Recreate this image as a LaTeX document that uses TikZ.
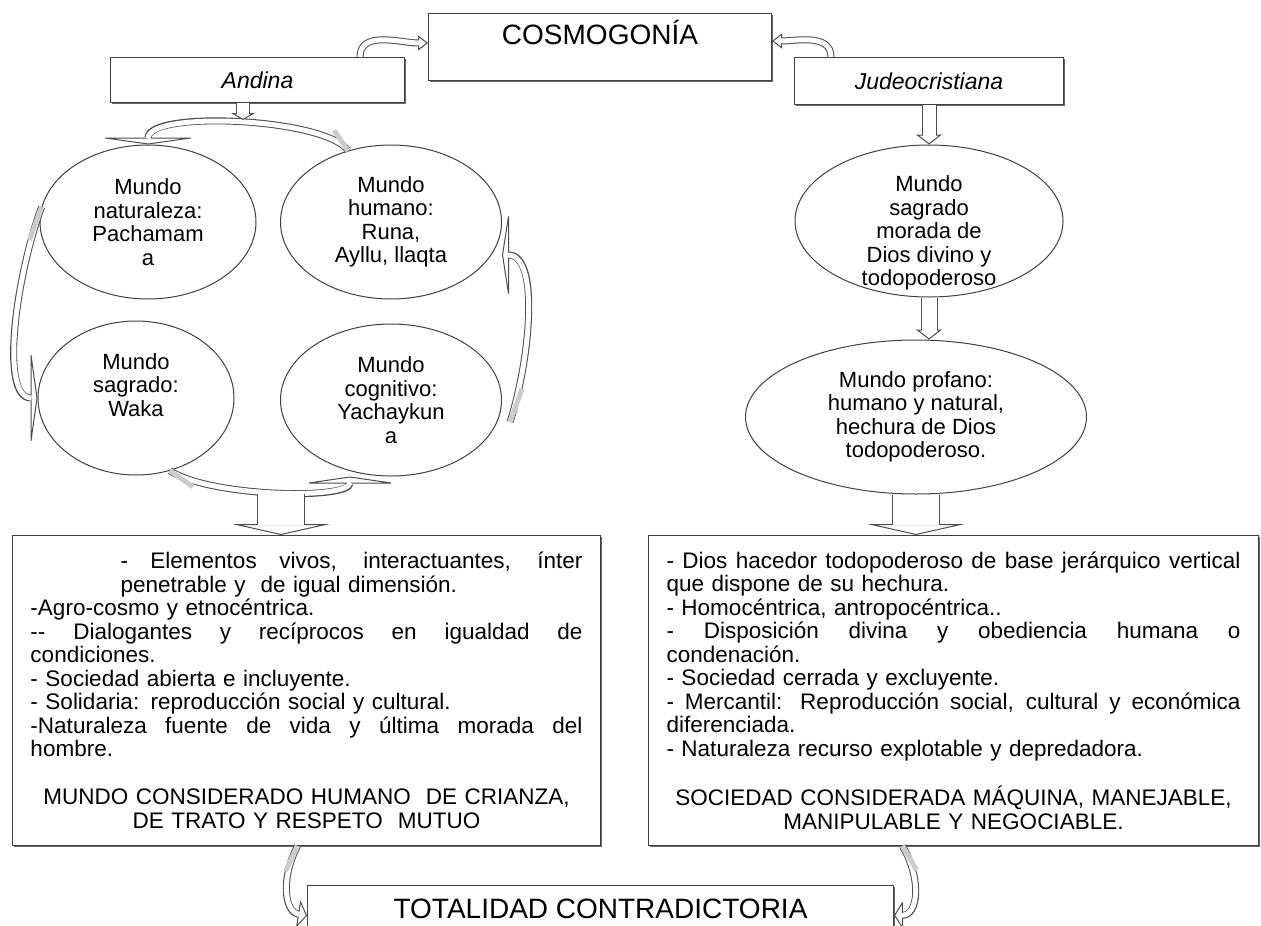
\documentclass[tikz,border=0pt]{standalone}
\usepackage{fontspec}
\setmainfont{Liberation Sans}
\usetikzlibrary{shapes.geometric,arrows.meta,shadows}
\newcommand{\justa}[2]{{\spaceskip=0pt\xspaceskip=0pt\makebox[#1][s]{#2}}}

\begin{document}
\begin{tikzpicture}[x=1pt,y=-1pt,
    caja/.style={draw=black!75,line width=1pt,fill=white,drop shadow={shadow xshift=1.5pt,shadow yshift=-1.5pt,fill=black!60,opacity=1}},
    mundo/.style={ellipse,draw=black!75,line width=1pt,fill=white,inner sep=0pt},
    rotulo/.style={align=center,font=\fontsize{22}{23.5}\selectfont},
    lista/.style={caja,anchor=north west,align=left,inner xsep=18pt,inner ysep=12pt,minimum height=310pt,font=\fontsize{22.5}{23.5}\selectfont},
    bloque/.style n args={5}{draw=black!70,line width=#1pt,-{Triangle[open,fill=white,line width=1pt,length=#3pt,width=#4pt]},postaction={draw=white,line width=#2pt,arrows=-,shorten >=#5pt}},
    cola/.style={draw=gray!40,line width=5pt}]
    \useasboundingbox (0,0) rectangle (1261,926);
    \node[caja,anchor=north west,minimum width=343,minimum height=67,text height=20pt,text depth=25pt,font=\fontsize{28}{30}\selectfont] (cosmo) at (428,13) {COSMOGONÍA};
    \node[caja,anchor=north west,minimum width=294,minimum height=45,font=\fontsize{23}{25}\selectfont\itshape] (andina) at (110,57) {Andina};
    \node[caja,anchor=north west,minimum width=269,minimum height=47,font=\fontsize{23}{25}\selectfont\itshape] (judeo) at (794,57) {Judeocristiana};
    \node[mundo,minimum width=216,minimum height=154] (natur) at (148,222) {};
    \node[rotulo] (tnatur) at (natur) {Mundo\\naturaleza:\\Pachamam\\a};
    \node[mundo,minimum width=221,minimum height=154] (humano) at (391,222) {};
    \node[rotulo] (thumano) at (humano) {Mundo\\humano:\\Runa,\\Ayllu, llaqta};
    \node[mundo,minimum width=196,minimum height=154] (sagA) at (136,398) {};
    \node[rotulo] (tsagA) at ([yshift=13pt]sagA.center) {Mundo\\sagrado:\\Waka};
    \node[mundo,minimum width=221,minimum height=152] (cogn) at (391,400) {};
    \node[rotulo] (tcogn) at (cogn) {Mundo\\cognitivo:\\Yachaykun\\a};
    \node[mundo,minimum width=268,minimum height=152] (sagJ) at (929,221) {};
    \node[rotulo] (tsagJ) at ([yshift=-12pt]sagJ.center) {Mundo\\sagrado\\morada de\\Dios divino y\\todopoderoso};
    \node[mundo,minimum width=341,minimum height=154] (profano) at (916,417) {};
    \node[rotulo] (tprofano) at (profano) {Mundo profano:\\humano y natural,\\hechura de Dios\\todopoderoso.};
    \node[lista,text width=552] (listaA) at (12,535) {\hspace*{90pt}\justa{462pt}{- Elementos vivos, interactuantes, ínter}\\
        \hspace*{90pt}penetrable y\ \ de igual dimensión.\\
        -Agro-cosmo y etnocéntrica.\\
        \justa{552pt}{-{}- Dialogantes y recíprocos en igualdad de}\\
        condiciones.\\
        - Sociedad abierta e incluyente.\\
        - Solidaria: reproducción social y cultural.\\
        \justa{552pt}{-Naturaleza fuente de vida y última morada del}\\
        hombre.\\[24.5pt]
        \makebox[552pt][c]{MUNDO CONSIDERADO HUMANO\ \ DE CRIANZA,}\\
        \makebox[552pt][c]{DE TRATO Y RESPETO\ \ MUTUO}};
    \node[lista,text width=574] (listaJ) at (648,535) {\justa{574pt}{- Dios hacedor todopoderoso de base jerárquico vertical}\\
        que dispone de su hechura.\\
        - Homocéntrica, antropocéntrica..\\
        \justa{574pt}{- Disposición divina y obediencia humana o}\\
        condenación.\\
        - Sociedad cerrada y excluyente.\\
        \justa{574pt}{- Mercantil: Reproducción social, cultural y económica}\\
        diferenciada.\\
        - Naturaleza recurso explotable y depredadora.\\[24.5pt]
        \makebox[574pt][c]{SOCIEDAD CONSIDERADA MÁQUINA, MANEJABLE,}\\
        \makebox[574pt][c]{MANIPULABLE Y NEGOCIABLE.}};
    \node[caja,anchor=north west,minimum width=586,minimum height=80,text height=20pt,text depth=34pt,font=\fontsize{28}{30}\selectfont] (total) at (307,885) {TOTALIDAD CONTRADICTORIA};
    \coordinate (arcA) at (243,120);
    \coordinate (arcB) at (281,494);
    \draw[bloque={7}{5}{10}{15}{9}] ([xshift=-45pt]andina.north east) to[out=90,in=180] ([yshift=4pt]cosmo.west);
    \draw[bloque={7}{5}{10}{15}{9}] ([xshift=37pt]judeo.north west) to[out=90,in=0] ([yshift=6pt]cosmo.east);
    \draw[bloque={7}{5}{7}{100}{6}] (humano.121) .. controls (325,118) and (148,110) .. (natur.north);
    \draw[bloque={7}{5}{7}{100}{6}] (natur.172) .. controls (15,280) and (0,398) .. (sagA.west);
    \draw[bloque={7}{5}{7}{96}{6}] (sagA.295) .. controls (210,497) and (350,500) .. ([xshift=-41pt]cogn.south);
    \draw[bloque={7}{5}{7}{90}{6}] ([xshift=8pt,yshift=-22pt]cogn.east) .. controls (530,360) and (540,255) .. ([yshift=-33pt]humano.east);
    \draw[cola] (humano.121) -- ++(-14,-20);
    \draw[cola] (natur.172) -- ++(-12,33);
    \draw[cola] (sagA.295) -- ++(23,16);
    \draw[cola] ([xshift=8pt,yshift=-22pt]cogn.east) -- ++(12,-33);
    \draw[bloque={14}{12}{7}{24}{6}] (arcA |- andina.south) -- (arcA);
    \draw[bloque={48}{46}{11}{98}{10}] (arcB) -- (arcB |- listaA.north);
    \draw[bloque={15}{13}{10}{26}{9}] (judeo.south) -- (sagJ.north);
    \draw[bloque={17}{15}{10}{26}{9}] (sagJ.south) -- (sagJ.south |- profano.north);
    \draw[bloque={48}{46}{11}{98}{10}] (profano.south) -- (listaJ.north -| profano.south);
    \draw[bloque={7}{5}{9}{28}{8}] ([xshift=-9pt]listaA.south) .. controls (280,880) and (285,912) .. ([yshift=10pt]total.west);
    \draw[bloque={7}{5}{9}{28}{8}] ([xshift=-51pt]listaJ.south) .. controls (922,880) and (918,915) .. ([yshift=10pt]total.east);
    \draw[cola] ([xshift=-9pt]listaA.south) -- ++(-12,25);
    \draw[cola] ([xshift=-51pt]listaJ.south) -- ++(14,24);
\end{tikzpicture}
\end{document}
